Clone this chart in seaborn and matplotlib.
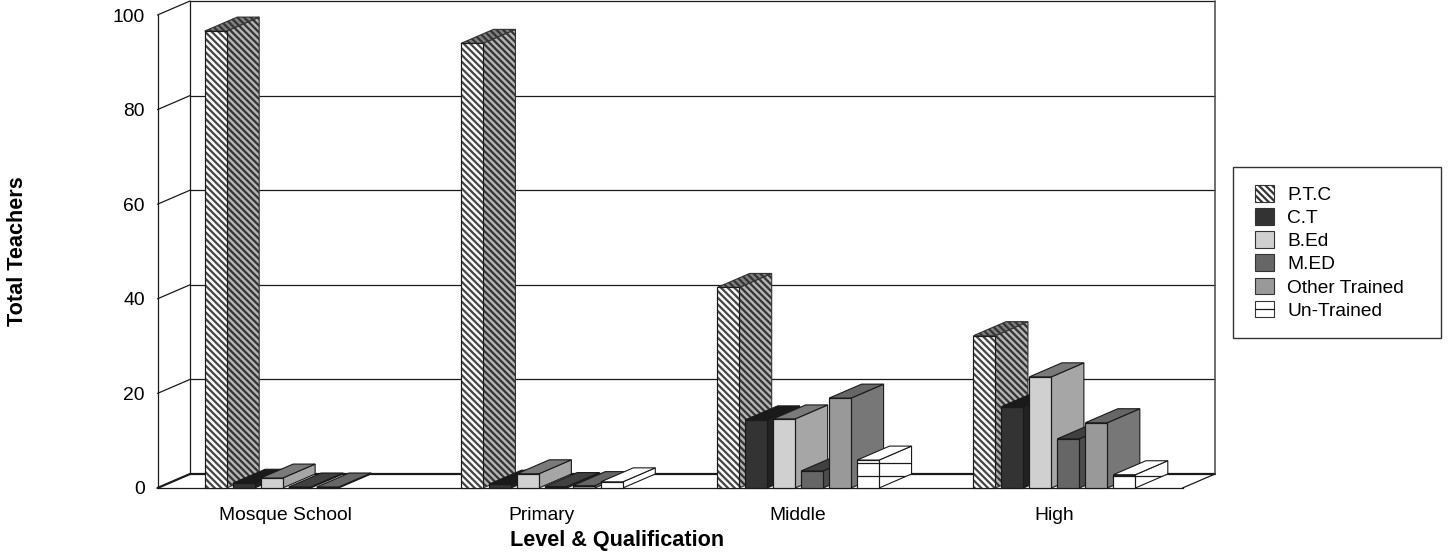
import pandas as pd
import matplotlib
matplotlib.use('Agg')
import matplotlib.pyplot as plt
import seaborn as sns
from matplotlib.lines import Line2D
from matplotlib.patches import Polygon, Rectangle, Patch
from matplotlib.transforms import IdentityTransform

# Values
levels = ['Mosque School', 'Primary', 'Middle', 'High']
qualifications = ['P.T.C', 'C.T', 'B.Ed', 'M.ED', 'Other Trained', 'Un-Trained']
ptc = [96.6, 94.0, 42.4, 32.2]
ct = [1.0, 0.8, 14.4, 17.2]
bed = [2.1, 3.0, 14.6, 23.5]
med = [0.2, 0.3, 3.6, 10.4]
other = [0.2, 0.5, 19.0, 13.8]
untrained = [0.0, 1.3, 5.9, 2.8]
y_ticks = [0, 20, 40, 60, 80, 100]

series = [ptc, ct, bed, med, other, untrained]
rows = []
for name, values in zip(qualifications, series):
    for level, value in zip(levels, values):
        rows.append({'level': level, 'qualification': name, 'value': value})
df = pd.DataFrame(rows)

# front, side and top shades of every series
front_colors = ['#ffffff', '#333333', '#d0d0d0', '#666666', '#999999', '#ffffff']
side_colors = ['#b4b4b4', '#222222', '#a6a6a6', '#4c4c4c', '#777777', '#ffffff']
top_colors = ['#808080', '#1a1a1a', '#7a7a7a', '#404040', '#666666', '#ffffff']
stripes = '\\' * 5
edge = '#1a1a1a'

sns.set_style('white')
plt.rcParams['font.family'] = ['Liberation Sans', 'DejaVu Sans']
plt.rcParams['hatch.linewidth'] = 1.6

W, H = 1450, 556
fig = plt.figure(figsize=(W / 100, H / 100), dpi=100)
ax = fig.add_axes([157.5 / W, (H - 488) / H, (1182.5 - 157.5) / W, (488 - 15) / H])

sns.barplot(data=df, x='level', y='value', hue='qualification',
            order=levels, hue_order=qualifications,
            palette=dict(zip(qualifications, front_colors)),
            width=0.655, gap=0.214, errorbar=None, legend=False, ax=ax)

ax.set_xlim(-0.5, 3.5)
ax.set_ylim(0, 100)

# depth of the fake 3D box, in data units
depth_x = 32.5 / 256.25
depth_y = 14 / 4.73
# spacing of the rules on the un-trained bars
rule_step = 12.5 / 4.73

# back wall, left wall and floor
wall_lw = 0.9
x0, x1 = ax.get_xlim()
for tick in y_ticks:
    lw = 1.6 if tick == 0 else wall_lw
    ax.plot([x0 + depth_x, x1 + depth_x], [tick + depth_y] * 2, color=edge, lw=lw,
            clip_on=False, zorder=1)
    ax.plot([x0, x0 + depth_x], [tick, tick + depth_y], color=edge, lw=lw,
            clip_on=False, zorder=1)
ax.plot([x0 + depth_x] * 2, [depth_y, 100 + depth_y], color=edge, lw=wall_lw, clip_on=False, zorder=1)
ax.plot([x1 + depth_x] * 2, [depth_y, 100 + depth_y], color='#555555', lw=1.2, clip_on=False, zorder=1)
ax.plot([x1, x1 + depth_x], [0, depth_y], color=edge, lw=wall_lw, clip_on=False, zorder=1)

# turn every seaborn bar into a box
for s, container in enumerate(ax.containers):
    z = 3 + s * 0.1
    for bar in container:
        left, w, h = bar.get_x(), bar.get_width(), bar.get_height()
        if h <= 0:
            bar.set_visible(False)
            continue
        right = left + w
        side = Polygon([(right, 0), (right + depth_x, depth_y),
                        (right + depth_x, h + depth_y), (right, h)], closed=True)
        top = Polygon([(left, h), (left + depth_x, h + depth_y),
                       (right + depth_x, h + depth_y), (right, h)], closed=True)
        for part, color in ((side, side_colors[s]), (top, top_colors[s])):
            part.set_facecolor(color)
            part.set_zorder(z)
            part.set_clip_on(False)
            part.set_linewidth(0.8)
            if s == 0:
                part.set_hatch(stripes)
                part.set_edgecolor('#333333')
            else:
                part.set_edgecolor(edge)
            ax.add_patch(part)
        bar.set_zorder(z + 0.01)
        bar.set_linewidth(0.8)
        if s == 0:
            bar.set_hatch(stripes)
            bar.set_edgecolor('#444444')
        else:
            bar.set_edgecolor(edge)
        # outline over the hatching
        ax.add_patch(Rectangle((left, 0), w, h, fill=False, edgecolor=edge, lw=0.8,
                               zorder=z + 0.03, clip_on=False))
        if s == 5:
            level = rule_step
            while level < h:
                for part in (bar, side):
                    rule = ax.plot([left, right + depth_x], [level, level], color=edge, lw=0.9,
                                   zorder=z + 0.02)[0]
                    rule.set_clip_path(part)
                level += rule_step

ax.set_yticks(y_ticks)
ax.tick_params(axis='both', length=0, labelsize=13.9, labelcolor='black')
ax.tick_params(axis='y', pad=9)
ax.tick_params(axis='x', pad=14)

sns.despine(ax=ax, top=True, right=True)
for name in ('left', 'bottom'):
    ax.spines[name].set_color(edge)
    ax.spines[name].set_linewidth(wall_lw)
    ax.spines[name].set_zorder(2)

ax.set_xlabel('Level & Qualification', fontsize=15.6, fontweight='bold', color='black')
ax.set_ylabel('Total Teachers', fontsize=15.6, fontweight='bold', color='black')
ax.xaxis.set_label_coords((617 - 157.5) / 1025, -(530 - 488) / (488 - 15))
ax.yaxis.set_label_coords((28 - 157.5) / 1025, (488 - 251) / (488 - 15))

# legend box
fig.add_artist(Rectangle((1233 / W, (H - 338) / H), 208 / W, 171 / H, transform=fig.transFigure,
                         facecolor='white', edgecolor='#333333', lw=1))
handles = []
for s, name in enumerate(qualifications):
    handles.append(Patch(facecolor=front_colors[s], edgecolor='#333333',
                         hatch=stripes if s == 0 else None,
                         linewidth=0.8, label=name))
leg = fig.legend(handles=handles, loc='upper left', bbox_to_anchor=(1255 / W, (H - 185) / H),
                 frameon=False, fontsize=13.8, labelcolor='black', borderpad=0, borderaxespad=0,
                 handlelength=1.0, handleheight=0.95, handletextpad=0.68, labelspacing=0.225)

# the un-trained swatch has one rule through its middle
fig.canvas.draw()
box = leg.get_patches()[5].get_window_extent()
fig.add_artist(Line2D([box.x0, box.x1], [(box.y0 + box.y1) / 2] * 2,
                      transform=IdentityTransform(), color=edge, lw=0.9, zorder=10))

fig.savefig('out.png', dpi=100, facecolor='white')
